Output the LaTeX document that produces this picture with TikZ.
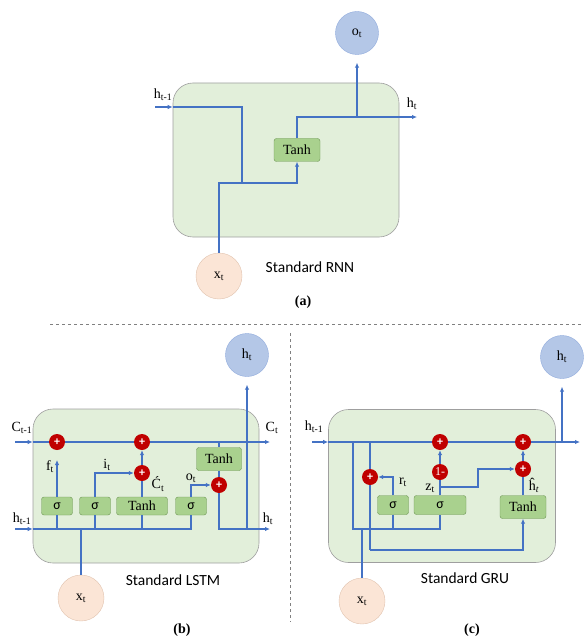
\documentclass[tikz,border=0pt]{standalone}
\usepackage{fontspec}
\setmainfont{Liberation Serif}
\newfontfamily\calib{Carlito}
\usetikzlibrary{arrows.meta, positioning, calc}
\definecolor{wireblue}{RGB}{68,114,196}
\definecolor{cellgreen}{RGB}{226,239,218}
\definecolor{gategreen}{RGB}{169,209,142}
\definecolor{gatedge}{RGB}{110,150,85}
\definecolor{outblue}{RGB}{180,199,231}
\definecolor{outedge}{RGB}{143,170,220}
\definecolor{inpeach}{RGB}{251,229,214}
\definecolor{inedge}{RGB}{225,195,175}
\definecolor{opred}{RGB}{192,0,0}

\begin{document}
\begin{tikzpicture}[x=1pt, y=-1pt,
  wire/.style={draw=wireblue, line width=1.3pt},
  cell/.style={draw=gray!75, fill=cellgreen, rounded corners=20pt, line width=0.6pt},
  gate/.style={draw=gatedge, fill=gategreen, rounded corners=2.5pt, minimum height=18pt, inner sep=1pt, font=\fontsize{14}{16}\selectfont},
  sig/.style={gate, minimum width=31pt, font=\calib\fontsize{14}{16}\selectfont},
  outc/.style={circle, draw=outedge, fill=outblue, minimum size=43pt, inner sep=0pt, font=\fontsize{14}{16}\selectfont},
  inc/.style={circle, draw=inedge, fill=inpeach, minimum size=46pt, inner sep=0pt, font=\fontsize{14}{16}\selectfont},
  op/.style={circle, fill=opred, minimum size=16pt, inner sep=0pt, text=white, font=\calib\bfseries\fontsize{12}{12}\selectfont},
  lbl/.style={inner sep=0pt, font=\fontsize{14}{16}\selectfont},
  caption/.style={font=\calib\fontsize{15.5}{18}\selectfont},
  tag/.style={font=\bfseries\fontsize{14}{16}\selectfont},
  sep/.style={dashed, gray, line width=0.8pt},
  >={Latex[length=5pt,width=4.5pt]}]
\useasboundingbox (0,0) rectangle (583,639);

% (a) plain recurrent cell
\node[cell, minimum width=226pt, minimum height=154pt] (cellA) at (286,160) {};
\node[outc] (oA) at (357,33) {o\textsubscript{t}};
\node[inc] (xA) at (219,276) {x\textsubscript{t}};
\node[gate, minimum width=46pt, minimum height=23pt] (tanhA) at (297,150) {Tanh};
\node[lbl] (hinA) at (163,95) {h\textsubscript{t-1}};
\node[lbl] (houtA) at (412,104) {h\textsubscript{t}};
\coordinate (hA0) at (155,107);
\coordinate (jA) at (242,183);
\coordinate (hA1) at (417,117);
\draw[wire,->] (hA0) -- (hA0 -| cellA.west);
\draw[wire] (hA0 -| cellA.west) -| (jA);
\draw[wire,->] (xA) |- (tanhA |- jA) -- (tanhA);
\draw[wire,->] (tanhA) |- (hA1);
\draw[wire,->] (oA |- hA1) -- ([yshift=-8pt]oA.south);
\node[caption] at (310,267) {Standard RNN};
\node[tag] at (303,302) {(a)};

% separators
\draw[sep] (50,324) -- (581,324);
\draw[sep] (290,333) -- (290,622);

% (b) LSTM cell
\node[cell, minimum width=226pt, minimum height=154pt] (cellB) at (146,486) {};
\node[outc] (hB) at (247,355) {h\textsubscript{t}};
\node[inc] (xB) at (81,598) {x\textsubscript{t}};
\foreach \n/\x in {sf/57, si/95, so/191}
  \node[sig] (\n) at (\x,506) {σ};
\node[gate, minimum width=51pt] (tB) at (142,506) {Tanh};
\node[gate, minimum width=45pt, minimum height=23pt] (tB2) at (219,459) {Tanh};
\node[op] (pf) at (57,442) {+};
\node[op] (pc) at (142,442) {+};
\node[op] (pi) at (142,473) {+};
\node[op] (po) at (219,485) {+};
\coordinate (cB0) at (15,442);
\coordinate (cB1) at (270,442);
\coordinate (hB0) at (15,529);
\coordinate (hB1) at (270,529);
\coordinate (fB) at (57,460);
\draw[wire,->] (cB0) -- (cB0 -| cellB.west);
\draw[wire] (cB0 -| cellB.west) -- (pf) -- (pc);
\draw[wire,->] (pc) -- (cB1);
\draw[wire] (tB2 |- cB1) -- (tB2);
\draw[wire] (tB2) -- (po);
\draw[wire,->] (hB0) -- (hB0 -| cellB.west);
\draw[wire] (hB0 -| cellB.west) -| (so);
\foreach \g in {sf,si,tB}
  \draw[wire] (hB0 -| \g) -- (\g);
\draw[wire] (xB) -- (xB |- hB0);
\draw[wire,->] (sf) -- (fB);
\draw[wire,->] (si) |- (pi);
\draw[wire] (tB) -- (pi);
\draw[wire,->] (pi) -- (pc);
\draw[wire,->] (so) |- (po);
\draw[wire,->] (po) |- (hB1);
\draw[wire,->] (hB |- hB1) -- ([yshift=-8pt]hB.south);
\node[lbl] at (22,428) {C\textsubscript{t-1}};
\node[lbl] at (272,428) {C\textsubscript{t}};
\node[lbl] at (22,519) {h\textsubscript{t-1}};
\node[lbl] at (268,519) {h\textsubscript{t}};
\node[lbl] at (50,467) {f\textsubscript{t}};
\node[lbl] at (107,465) {i\textsubscript{t}};
\node[lbl] at (158,484) {Ć\textsubscript{t}};
\node[lbl] at (191,478) {o\textsubscript{t}};
\node[caption] at (173,580) {Standard LSTM};
\node[tag] at (182,630) {(b)};

% (c) GRU cell
\node[cell, minimum width=227pt, minimum height=153pt] (cellC) at (442,486) {};
\node[outc] (hC) at (562,357) {h\textsubscript{t}};
\node[inc] (xC) at (362,601) {x\textsubscript{t}};
\node[sig, minimum height=19pt] (sr) at (393,505) {σ};
\node[sig, minimum height=19pt, minimum width=52pt] (sz) at (440,505) {σ};
\node[gate, minimum width=46pt, minimum height=23pt] (tC) at (523,507) {Tanh};
\node[op] (pa) at (440,442) {+};
\node[op] (pb) at (523,442) {+};
\node[op] (pr) at (370,477) {+};
\node[op] (pz) at (523,469) {+};
\node[op, font=\fontsize{12}{12}\selectfont] (om) at (440,472) {1-};
\coordinate (hC0) at (312,442);
\coordinate (hC1) at (580,442);
\coordinate (lC) at (353,442);
\coordinate (bC) at (353,529);
\coordinate (rC) at (370,442);
\coordinate (dC) at (370,550);
\coordinate (zC) at (440,487);
\coordinate (kC) at (478,487);
\draw[wire,->] (hC0) -- (hC0 -| cellC.west);
\draw[wire] (hC0 -| cellC.west) -- (pa) -- (pb);
\draw[wire,->] (pb) -- (hC1);
\draw[wire,->] (hC |- hC1) -- ([yshift=-8pt]hC.south);
\draw[wire] (lC) -- (bC) -| (sz);
\draw[wire] (sr) -- (sr |- bC);
\draw[wire] (rC) -- (pr) -- (dC);
\draw[wire,->] (dC) -| (tC);
\draw[wire] (xC) -- (xC |- bC);
\draw[wire,->] (sr) |- (pr);
\draw[wire] (sz) -- (om);
\draw[wire,->] (om) -- (pa);
\draw[wire,->] (zC) -- (kC) |- (pz);
\draw[wire] (tC) -- (pz);
\draw[wire,->] (pz) -- (pb);
\node[lbl] at (314,427) {h\textsubscript{t-1}};
\node[lbl] at (403,482) {r\textsubscript{t}};
\node[lbl] at (430,488) {z\textsubscript{t}};
\node[lbl] at (534,485) {ĥ\textsubscript{\itshape t}};
\node[caption] at (465,578) {Standard GRU};
\node[tag] at (472,630) {(c)};
\end{tikzpicture}
\end{document}
